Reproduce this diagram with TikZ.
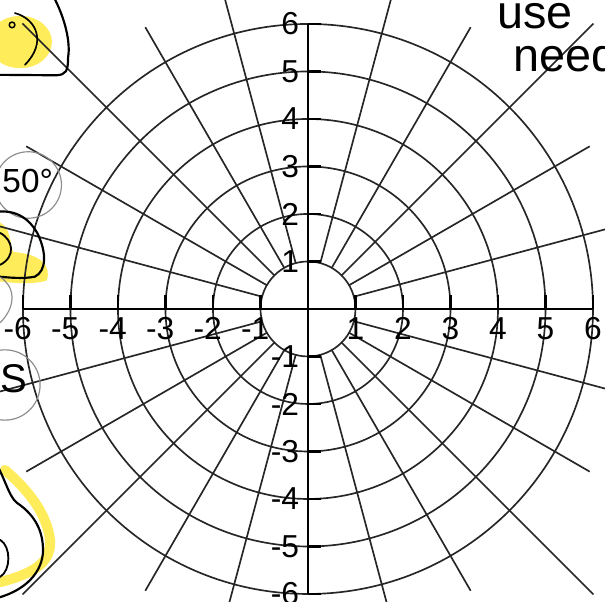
\documentclass[tikz,border=0pt]{standalone}
\usepackage{fontspec}
\setmainfont{Liberation Sans}
\begin{document}
\begin{tikzpicture}
  [scale=1,line join=round,
   rejilla/.style={black!85,line width=1pt},
   eje/.style={black,line width=1.4pt},
   marca/.style={font=\fontsize{19}{19}\selectfont,inner sep=0pt},
   nota/.style={black,line width=1.3pt,line cap=round},
   aro/.style={black!45,line width=0.7pt},
   resaltado/.style={yellow!85!orange,opacity=0.65},
   mano/.style={font=\fontsize{28}{28}\selectfont,inner sep=0pt,anchor=base west}]
  \useasboundingbox (-6.484,-6.168) rectangle (6.253,6.505);

  % Marcas a mano (resaltador)
  \fill[resaltado] (-6.06,5.62) ellipse (0.67 and 0.55);
  \fill[resaltado] (-6.6,1.85) .. controls (-6.2,1.8) and (-6.3,1.3) .. (-6.2,1.2)
    .. controls (-5.6,1.15) and (-5.4,0.9) .. (-5.5,0.6)
    .. controls (-5.8,0.5) and (-6.3,0.55) .. (-6.6,0.6) -- cycle;
  \draw[resaltado,line width=6pt,line cap=round] (-6.38,-3.39) .. controls (-5.9,-3.8) and (-5.5,-4.3)
    .. (-5.43,-4.86) .. controls (-5.4,-5.3) and (-5.7,-5.55) .. (-6.48,-5.75);

  % Círculos concéntricos
  \foreach \r in {1,...,6}
    \draw[rejilla] (0,0) circle (\r);

  % Rayos cada 15 grados
  \foreach \a in {15,30,60,75,105,120,150,165,195,210,240,255,285,300,330,345}
    \draw[rejilla] (\a:1) -- (\a:6.85);
  \foreach \a in {45,135,225,315}
    \draw[rejilla] (\a:1) -- (\a:8.5);

  % Ejes y marcas
  \draw[eje] (-6,0) -- (6,0);
  \draw[eje] (0,-6) -- (0,6);
  \foreach \i in {-6,...,-1,1,2,...,6} {
    \draw[eje] (\i,0) -- (\i,0.3);
    \draw[eje] (0,\i) -- (0.27,\i);
  }
  \foreach \i in {1,...,6} {
    \node[marca] (xp\i) at (\i,-0.42) {\i};
    \node[marca] (xn\i) at (-\i,-0.42) {\llap{-}\i};
    \node[marca,anchor=east] (yp\i) at (-0.18,\i) {\i};
    \node[marca,anchor=east] (yn\i) at (-0.18,-\i) {-\i};
  }

  % Trazos a mano
  \draw[nota] (-5.37,6.6) .. controls (-5.1,6.1) and (-5.0,5.6) .. (-5.05,5.3)
    .. controls (-5.05,5.0) and (-5.1,4.93) .. (-5.3,4.92) -- (-6.6,4.93);
  \draw[nota,line width=1pt] (-6.17,6.23) .. controls (-5.7,6.1) and (-5.5,5.6) .. (-5.96,5.14);
  \draw[nota,line width=0.9pt] (-6.23,5.98) circle (0.06);
  \draw[aro] (-5.89,2.61) circle (0.7);
  \node[font=\fontsize{20}{20}\selectfont,inner sep=0pt] (cincuenta) at (-5.9,2.7) {50°};
  \draw[nota] (-6.6,2.04) .. controls (-6.2,2.1) and (-5.9,1.95) .. (-5.7,1.6)
    .. controls (-5.5,1.2) and (-5.5,0.8) .. (-5.75,0.68) .. controls (-6.0,0.63) and (-6.3,0.66) .. (-6.6,0.69);
  \draw[nota,line width=1.1pt] (-6.48,1.6) .. controls (-6.2,1.45) and (-6.15,1.1) .. (-6.48,0.93);
  \draw[aro] (-6.48,0.67) .. controls (-6.2,0.5) and (-6.1,0.1) .. (-6.48,-0.29);
  \draw[aro] (-6.38,-1.6) circle (0.74);
  \node[font=\fontsize{24}{24}\selectfont,inner sep=0pt] (ese) at (-6.19,-1.47) {S};
  \draw[nota] (-6.6,-3.2) .. controls (-6.4,-3.5) and (-6.3,-3.95) .. (-6.13,-4.08)
    .. controls (-5.8,-4.3) and (-5.6,-4.6) .. (-5.58,-5.01)
    .. controls (-5.55,-5.4) and (-5.8,-5.9) .. (-6.6,-6.1);
  \draw[nota,line width=1.1pt] (-6.48,-4.86) .. controls (-6.25,-5.0) and (-6.25,-5.5) .. (-6.48,-5.64);
  \node[mano] (usar) at (3.98,5.9) {use};
  \node[mano] (necesita) at (4.32,4.99) {need};
\end{tikzpicture}
\end{document}
